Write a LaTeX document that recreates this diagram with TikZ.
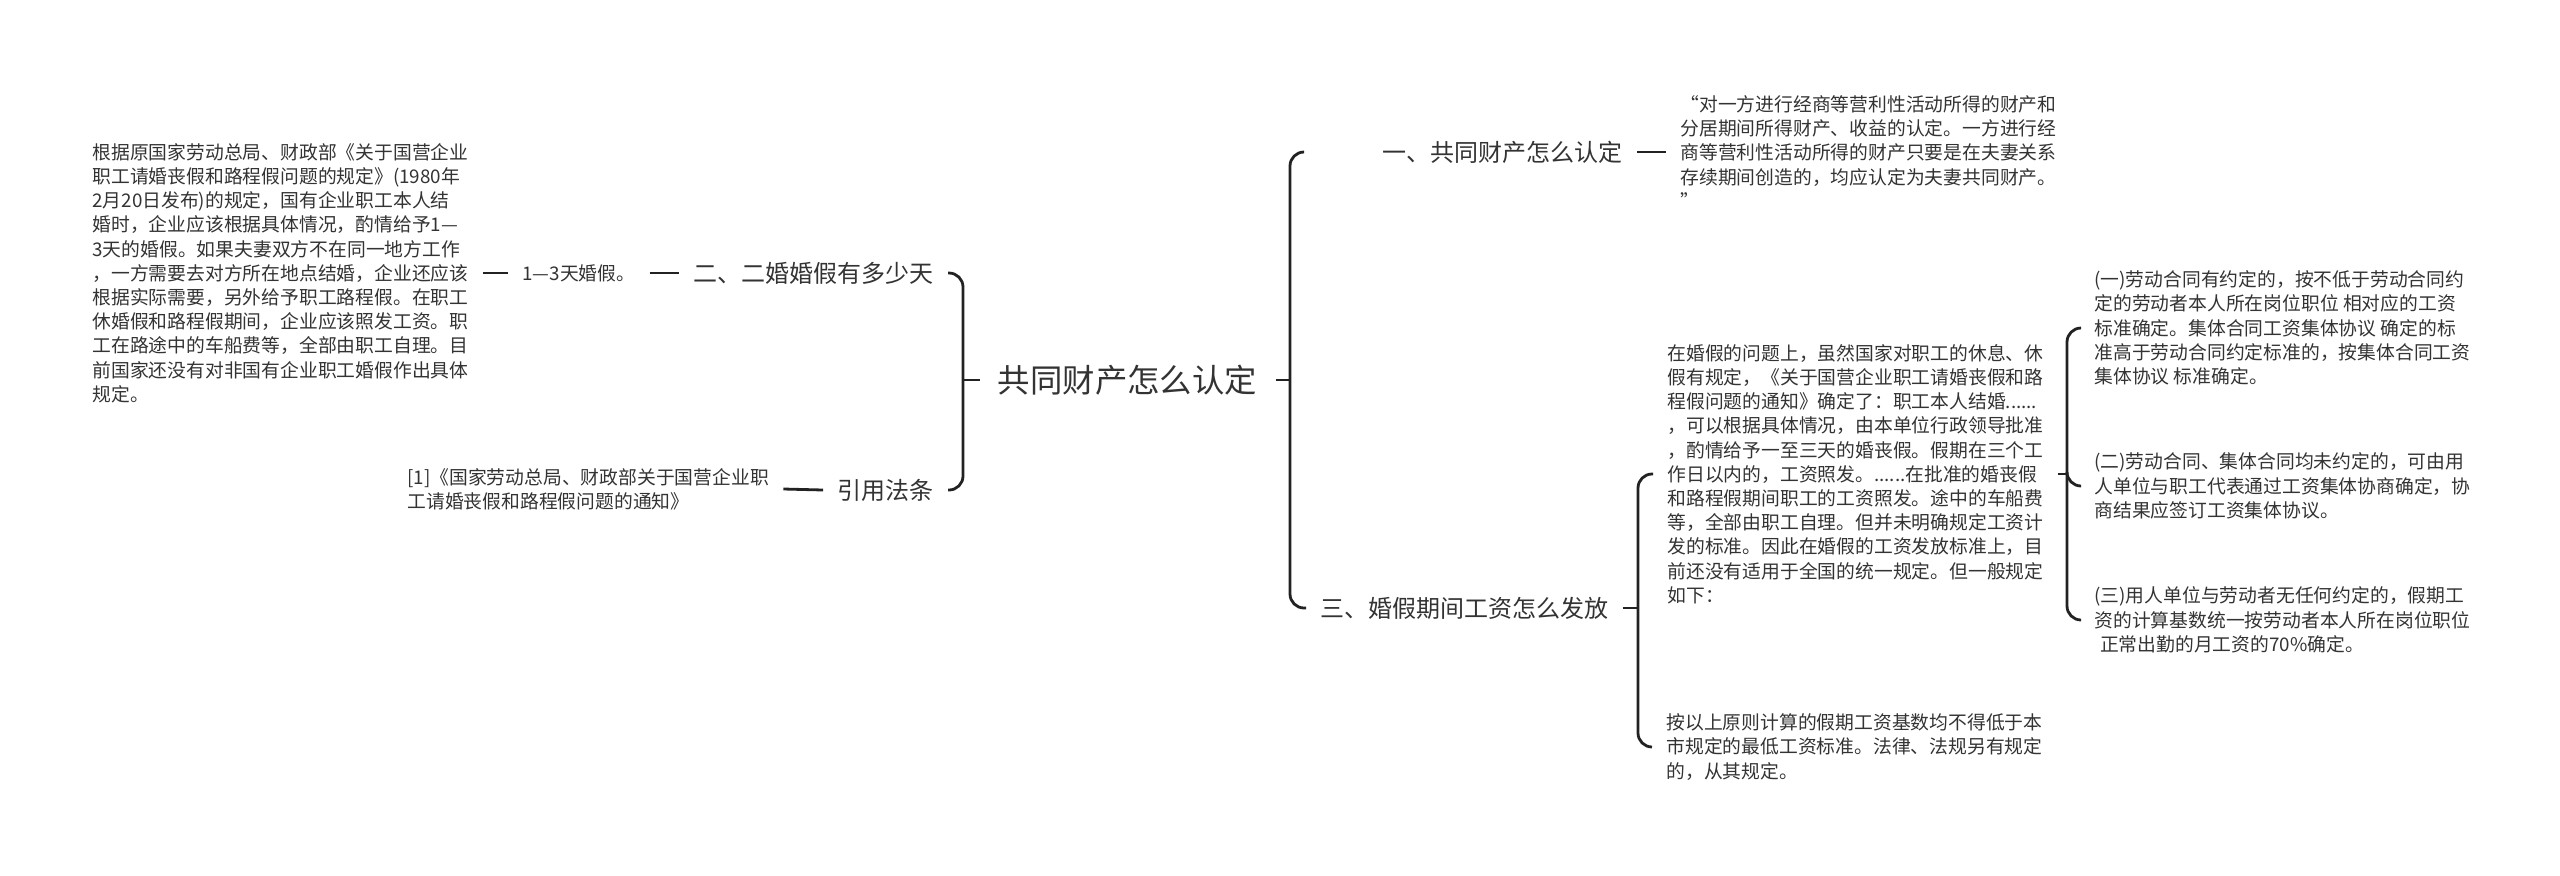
\documentclass[tikz,border=0pt]{standalone}
\usepackage{fontspec}
\setmainfont{Noto Sans CJK SC}
\usetikzlibrary{positioning}
\definecolor{ink}{HTML}{333333}
\definecolor{wire}{HTML}{222222}

\begin{document}
\begin{tikzpicture}[x=0.5pt,y=-0.5pt,
  leaf/.style={font=\fontsize{9.4}{12.1}\selectfont,align=left,text=ink,inner xsep=7pt,inner ysep=2pt},
  branch/.style={font=\fontsize{12}{14}\selectfont,text=ink,inner xsep=7pt,inner ysep=2pt},
  link/.style={draw=wire,line width=1.4pt},
  fork/.style={link,rounded corners=7pt}]
  \useasboundingbox (0,0) rectangle (2560,875);

  % centre topic
  \node[font=\fontsize{16.2}{18}\selectfont,text=ink,inner xsep=9pt] (root) at (1127.5,380) {共同财产怎么认定};

  % left half
  \node[branch,anchor=east] (q2) at (948,273) {二、二婚婚假有多少天};
  \node[leaf,anchor=west] (days) at (508,273) {1—3天婚假。};
  \node[leaf,anchor=west] (rule) at (78,273) {根据原国家劳动总局、财政部《关于国营企业\\职工请婚丧假和路程假问题的规定》(1980年\\2月20日发布)的规定，国有企业职工本人结\\婚时，企业应该根据具体情况，酌情给予1—\\3天的婚假。如果夫妻双方不在同一地方工作\\，一方需要去对方所在地点结婚，企业还应该\\根据实际需要，另外给予职工路程假。在职工\\休婚假和路程假期间，企业应该照发工资。职\\工在路途中的车船费等，全部由职工自理。目\\前国家还没有对非国有企业职工婚假作出具体\\规定。};
  \node[branch,anchor=east] (law) at (948,490) {引用法条};
  \node[leaf,anchor=west] (cite) at (393,489) {[1]《国家劳动总局、财政部关于国营企业职\\工请婚丧假和路程假问题的通知》};

  \coordinate (lhub) at (963,380);
  \draw[link] (root.west) -- (lhub);
  \draw[fork] (q2.east) -| (lhub) |- (law.east);
  \draw[link] (days.east) -- (q2.west);
  \draw[link] (rule.east) -- (days.west);
  \draw[link] (cite.east) -- (law.west);

  % right half
  \node[branch,anchor=east,text width=152pt,align=right] (q1) at (1637,152) {一、共同财产怎么认定};
  \node[leaf,anchor=west] (quote) at (1666,152) {“对一方进行经商等营利性活动所得的财产和\\分居期间所得财产、收益的认定。一方进行经\\商等营利性活动所得的财产只要是在夫妻关系\\存续期间创造的，均应认定为夫妻共同财产。\\”};
  \node[branch,anchor=west] (q3) at (1306,608) {三、婚假期间工资怎么发放};
  \node[leaf,anchor=west] (pay) at (1653,474) {在婚假的问题上，虽然国家对职工的休息、休\\假有规定，《关于国营企业职工请婚丧假和路\\程假问题的通知》确定了：职工本人结婚......\\，可以根据具体情况，由本单位行政领导批准\\，酌情给予一至三天的婚丧假。假期在三个工\\作日以内的，工资照发。......在批准的婚丧假\\和路程假期间职工的工资照发。途中的车船费\\等，全部由职工自理。但并未明确规定工资计\\发的标准。因此在婚假的工资发放标准上，目\\前还没有适用于全国的统一规定。但一般规定\\如下：};
  \node[leaf,anchor=west] (floor) at (1652,747) {按以上原则计算的假期工资基数均不得低于本\\市规定的最低工资标准。法律、法规另有规定\\的，从其规定。};

  \coordinate (rhub) at (1290,380);
  \draw[link] (root.east) -- (rhub);
  \draw[fork] (q1.west) -| (rhub) |- (q3.west);
  \draw[link] (q1.east) -- (quote.west);

  \coordinate (mhub) at (1638,608);
  \draw[link] (q3.east) -- (mhub);
  \draw[fork] (pay.west) -| (mhub) |- (floor.west);

  % three cases
  \node[leaf,anchor=west] (caseA) at (2080,328) {(一)劳动合同有约定的，按不低于劳动合同约\\定的劳动者本人所在岗位职位 相对应的工资\\标准确定。集体合同工资集体协议 确定的标\\准高于劳动合同约定标准的，按集体合同工资\\集体协议 标准确定。};
  \node[leaf,anchor=west] (caseB) at (2080,486) {(二)劳动合同、集体合同均未约定的，可由用\\人单位与职工代表通过工资集体协商确定，协\\商结果应签订工资集体协议。};
  \node[leaf,anchor=west] (caseC) at (2080,620) {(三)用人单位与劳动者无任何约定的，假期工\\资的计算基数统一按劳动者本人所在岗位职位\\\hspace*{0.3em}正常出勤的月工资的70\%确定。};

  \coordinate (shub) at (2067,474);
  \draw[link] (pay.east) -- (shub);
  \draw[fork] (caseA.west) -| (shub) |- (caseC.west);
  \draw[fork] (caseB.west) -| (shub);
\end{tikzpicture}
\end{document}
